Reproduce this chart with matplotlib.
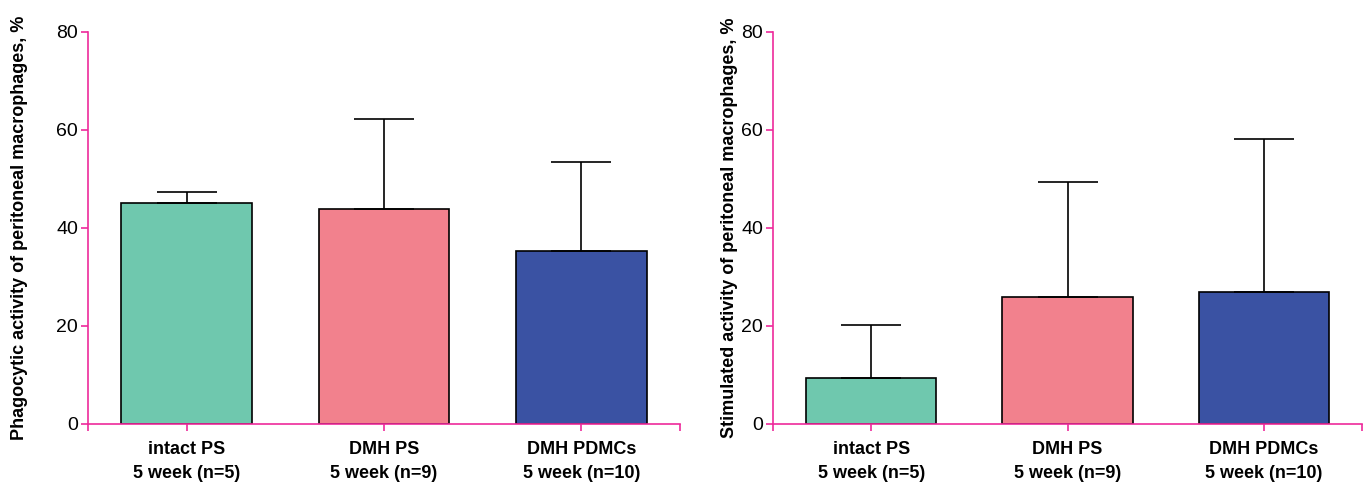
import numpy as np
import matplotlib
matplotlib.use("Agg")
import matplotlib.pyplot as plt

plt.rcParams['font.family'] = ['Liberation Sans Narrow', 'Liberation Sans', 'DejaVu Sans']

groups = ["intact PS\n5 week (n=5)", "DMH PS\n5 week (n=9)", "DMH PDMCs\n5 week (n=10)"]
phago_mean = [45.1, 43.9, 35.3]
phago_sd = [2.2, 18.3, 18.2]
stim_mean = [9.4, 25.9, 26.9]
stim_sd = [10.8, 23.5, 31.3]
colors = ["#6fc8ae", "#f2818d", "#3a52a3"]
ylabels = ["Phagocytic activity of peritoneal macrophages, %",
           "Stimulated activity of peritoneal macrophages, %"]

axcol = "#ee2a9b"
fig = plt.figure(figsize=(13.7, 4.87), dpi=100)
ax1 = fig.add_axes([0.0642, 0.1294, 0.4322, 0.805])
ax2 = fig.add_axes([0.5642, 0.1294, 0.4300, 0.805])

for ax, m, s, yl, lx in [(ax1, phago_mean, phago_sd, ylabels[0], -0.101),
                         (ax2, stim_mean, stim_sd, ylabels[1], -0.059)]:
    x = np.arange(len(groups))
    ax.bar(x, m, width=0.663, color=colors, edgecolor="black", linewidth=1.2, zorder=2)
    ax.errorbar(x, m, yerr=[np.zeros(len(m)), s], fmt="none", ecolor="black",
                elinewidth=1.2, capsize=21.6, capthick=1.2, zorder=3)
    ax.set_xlim(-0.5, 2.5)
    ax.set_ylim(0, 80)
    ax.set_yticks([0, 20, 40, 60, 80])
    ax.set_xticks(x)
    ax.set_xticklabels(groups, fontsize=13, fontweight="bold", linespacing=1.55)
    ax.set_xticks([-0.5, 2.5], minor=True)
    ax.tick_params(axis="both", which="both", color=axcol, length=5, width=1.2)
    ax.tick_params(axis="y", labelsize=14, pad=2)
    ax.tick_params(axis="x", pad=7)
    ax.set_ylabel(yl, fontsize=13, fontweight="bold")
    ax.yaxis.set_label_coords(lx, 0.5)
    for sp in ["top", "right"]:
        ax.spines[sp].set_visible(False)
    for sp in ["left", "bottom"]:
        ax.spines[sp].set_color(axcol)
        ax.spines[sp].set_linewidth(1.2)
    ax.spines["bottom"].set_bounds(-0.5, 2.5)

fig.savefig("out.png", dpi=100)
